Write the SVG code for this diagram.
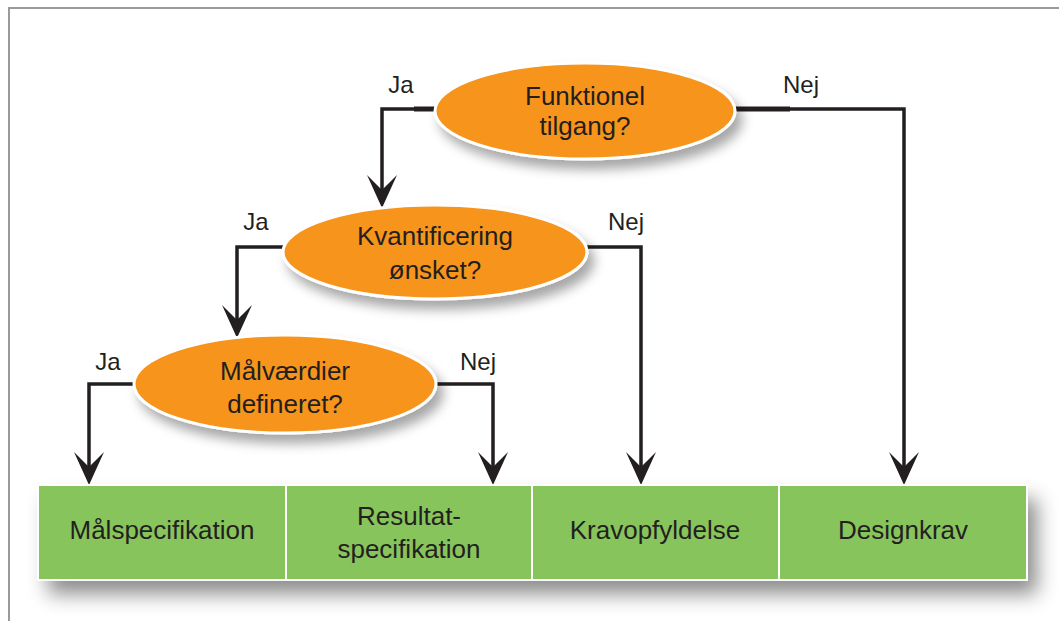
<svg xmlns="http://www.w3.org/2000/svg" width="1059" height="621" viewBox="0 0 1059 621">
<style>
.dec{fill:#F7941E;stroke:#ffffff;stroke-width:3;filter:url(#sh)}
.box{fill:#88C45C;stroke:#ffffff;stroke-width:2}
.t{font-family:"Liberation Sans",Arial,sans-serif;font-size:26px;fill:#231F20;text-anchor:middle}
.lbl{font-family:"Liberation Sans",Arial,sans-serif;font-size:24px;fill:#231F20;text-anchor:middle}
.con{fill:none;stroke:#231F20;stroke-width:3.5}
.stub{fill:none;stroke:#231F20;stroke-width:5}
</style>
<defs>
<filter id="sh" x="-20%" y="-30%" width="150%" height="180%">
<feDropShadow dx="6" dy="9" stdDeviation="6" flood-color="#000" flood-opacity="0.35"/>
</filter>
<filter id="bsh" x="-10%" y="-30%" width="125%" height="190%">
<feDropShadow dx="10" dy="14" stdDeviation="10" flood-color="#000" flood-opacity="0.45"/>
</filter>
<marker id="ar" markerUnits="userSpaceOnUse" markerWidth="40" markerHeight="40" refX="0" refY="0" orient="auto" overflow="visible">
<path d="M15,0 L-18,-15 Q-8,-5 -3,0 Q-8,5 -18,15 Z" fill="#231F20"/>
</marker>
</defs>
<rect width="1059" height="621" fill="#ffffff"/>
<path d="M9,621 V8 H1059" fill="none" stroke="#9a9a9a" stroke-width="2"/>

<g id="connectors">
<path class="con" d="M435,109 H382 V193" marker-end="url(#ar)"/>
<path class="stub" d="M414,109 H436"/>
<path class="con" d="M735,109 H904 V470" marker-end="url(#ar)"/>
<path class="stub" d="M734,109 H790"/>
<path class="con" d="M284,247 H237 V323" marker-end="url(#ar)"/>
<path class="con" d="M586,247 H641 V470" marker-end="url(#ar)"/>
<path class="con" d="M134,384 H89 V470" marker-end="url(#ar)"/>
<path class="con" d="M435,384 H493 V470" marker-end="url(#ar)"/>
</g>

<g id="boxes-shadow">
<rect x="38" y="485" width="989" height="95" fill="#88C45C" filter="url(#bsh)"/>
</g>
<g id="box-malspecifikation">
<rect class="box" x="38" y="485" width="248" height="95"/>
<text class="t" x="162" y="539">Målspecifikation</text>
</g>
<g id="box-resultatspecifikation">
<rect class="box" x="286" y="485" width="246" height="95"/>
<text class="t" x="409" y="525">Resultat-</text>
<text class="t" x="409" y="558">specifikation</text>
</g>
<g id="box-kravopfyldelse">
<rect class="box" x="532" y="485" width="247" height="95"/>
<text class="t" x="655" y="539">Kravopfyldelse</text>
</g>
<g id="box-designkrav">
<rect class="box" x="779" y="485" width="248" height="95"/>
<text class="t" x="903" y="539">Designkrav</text>
</g>

<g id="dec-funktionel">
<ellipse class="dec" cx="585" cy="111" rx="150" ry="48"/>
<text class="t" x="585" y="105">Funktionel</text>
<text class="t" x="585" y="135">tilgang?</text>
</g>
<g id="dec-kvantificering">
<ellipse class="dec" cx="435" cy="252" rx="152" ry="47"/>
<text class="t" x="435" y="245">Kvantificering</text>
<text class="t" x="435" y="279">ønsket?</text>
</g>
<g id="dec-malvaerdier">
<ellipse class="dec" cx="285" cy="384" rx="151" ry="49"/>
<text class="t" x="285" y="380">Målværdier</text>
<text class="t" x="285" y="413">defineret?</text>
</g>

<g id="labels">
<text class="lbl" x="401" y="93">Ja</text>
<text class="lbl" x="801" y="93">Nej</text>
<text class="lbl" x="256" y="230">Ja</text>
<text class="lbl" x="626" y="230">Nej</text>
<text class="lbl" x="108" y="370">Ja</text>
<text class="lbl" x="478" y="370">Nej</text>
</g>
</svg>
